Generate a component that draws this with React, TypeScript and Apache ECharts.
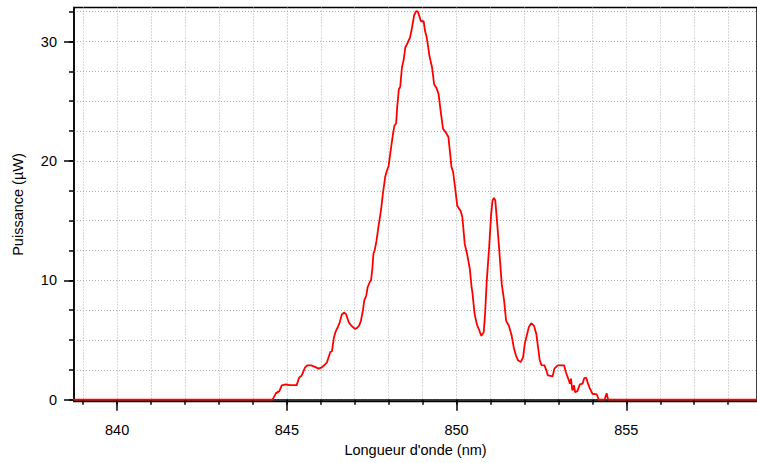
import React, { useEffect, useRef } from "react";
import * as echarts from "echarts";

const wavelength: number[] = [
  838.6, 844.58, 844.68, 844.78, 844.85, 844.97, 845.07, 845.29, 845.36, 845.43,
  845.48, 845.53, 845.6, 845.72, 845.84, 845.94, 846.04, 846.12, 846.18, 846.23,
  846.28, 846.33, 846.38, 846.43, 846.5, 846.56, 846.62, 846.69, 846.75, 846.82,
  846.9, 847.0, 847.06, 847.13, 847.18, 847.24, 847.28, 847.34, 847.38, 847.44,
  847.48, 847.52, 847.55, 847.59, 847.64, 847.71, 847.77, 847.84, 847.9, 847.95,
  848.0, 848.06, 848.13, 848.17, 848.22, 848.25, 848.3, 848.34, 848.39, 848.44,
  848.49, 848.56, 848.63, 848.69, 848.75, 848.81, 848.86, 848.9, 848.95, 849.03,
  849.07, 849.12, 849.15, 849.2, 849.28, 849.34, 849.41, 849.47, 849.53, 849.6,
  849.68, 849.76, 849.8, 849.85, 849.9, 849.95, 849.98, 850.02, 850.12, 850.17,
  850.24, 850.31, 850.39, 850.44, 850.47, 850.53, 850.6, 850.67, 850.73, 850.8,
  850.84, 850.89, 850.96, 851.02, 851.06, 851.1, 851.14, 851.19, 851.25, 851.33,
  851.4, 851.46, 851.54, 851.62, 851.69, 851.75, 851.81, 851.89, 851.96, 852.01,
  852.07, 852.13, 852.2, 852.28, 852.35, 852.4, 852.45, 852.5, 852.59, 852.64,
  852.69, 852.83, 852.88, 852.98, 853.17, 853.22, 853.29, 853.34, 853.37, 853.41,
  853.46, 853.49, 853.56, 853.63, 853.71, 853.76, 853.82, 853.88, 853.93, 854.0,
  854.13, 854.19, 854.36, 854.42, 854.46, 854.5, 859.0,
];

const power: number[] = [
  0, 0, 0.55, 0.72, 1.2, 1.28, 1.22, 1.22, 1.84, 2.0,
  2.3, 2.68, 2.87, 2.87, 2.73, 2.6, 2.73, 2.93, 3.12, 3.56,
  4.0, 4.07, 5.1, 5.66, 6.07, 6.5, 7.14, 7.3, 7.14, 6.5,
  6.2, 5.94, 6.0, 6.2, 6.58, 7.47, 8.3, 8.73, 9.42, 9.84,
  10.0, 11.0, 12.2, 12.55, 13.3, 14.7, 15.8, 17.5, 18.7, 19.2,
  19.6, 20.9, 22.3, 22.95, 23.15, 24.5, 26.0, 26.2, 27.8, 28.45,
  29.5, 29.9, 30.35, 31.2, 32.2, 32.55, 32.5, 32.15, 31.7, 31.7,
  30.9, 30.35, 29.8, 28.8, 27.8, 26.4, 26.1, 25.6, 24.2, 22.7,
  22.4, 22.0, 20.9, 19.5, 19.05, 17.9, 17.2, 16.25, 15.8, 15.3,
  13.05, 12.2, 10.96, 9.5, 8.9, 7.2, 6.3, 5.8, 5.35, 5.66,
  7.2, 10.0, 12.8, 15.6, 16.7, 16.9, 16.7, 15.0, 12.8, 9.7,
  8.3, 6.6, 6.2, 5.4, 4.3, 3.7, 3.3, 3.15, 3.56, 4.7,
  5.4, 6.1, 6.4, 6.2, 5.5, 4.4, 3.3, 2.9, 2.87, 2.5,
  2.03, 1.95, 2.6, 2.87, 2.87, 2.3, 1.76, 1.34, 1.76, 0.78,
  1.2, 0.64, 0.72, 1.28, 1.34, 1.8, 1.84, 1.28, 0.92, 0.5,
  0.44, 0, 0, 0.55, 0.05, 0, 0,
];

const xMajorTicks: number[] = [840, 845, 850, 855];
const xMinorTicks: number[] = [
  839, 840, 841, 842, 843, 844, 845, 846, 847, 848, 849, 850, 851, 852, 853,
  854, 855, 856, 857, 858,
];
const yMajorTicks: number[] = [0, 10, 20, 30];
const yMinorTicks: number[] = [0, 2.5, 5, 7.5, 10, 12.5, 15, 17.5, 20, 22.5, 25, 27.5, 30, 32.5];

const X_MIN = 838.73;
const X_MAX = 858.85;
const Y_MIN = -0.15;
const Y_MAX = 32.85;

const FONT = "'Liberation Sans', Arial, Helvetica, sans-serif";

export default function App() {
  const ref = useRef<HTMLDivElement>(null);

  useEffect(() => {
    if (!ref.current) return;
    const chart = echarts.init(ref.current, undefined, { renderer: "svg" });
    const data = wavelength.map((w, i) => [w, power[i]]);
    const axisLineStyle = { color: "#000", width: 1.5 };
    const gridLineStyle = { color: "#b0b0b0", width: 1, type: [1, 2] as number[] };
    const labelStyle = { color: "#000", fontSize: 14.5, fontFamily: FONT };

    chart.setOption({
      animation: false,
      backgroundColor: "#fff",
      textStyle: { fontFamily: FONT },
      grid: {
        left: 74,
        top: 7.5,
        right: -8,
        bottom: 61.5,
        show: true,
        borderColor: "#000",
        borderWidth: 1.5,
        backgroundColor: "transparent",
      },
      xAxis: [
        {
          type: "value",
          min: X_MIN,
          max: X_MAX,
          position: "bottom",
          name: "Longueur d'onde (nm)",
          nameLocation: "middle",
          nameGap: 41,
          nameTextStyle: labelStyle,
          axisLine: { show: true, lineStyle: axisLineStyle },
          axisTick: { show: true, length: 11, customValues: xMajorTicks, lineStyle: axisLineStyle },
          axisLabel: { show: true, margin: 21, customValues: xMajorTicks, ...labelStyle },
          splitLine: { show: false },
        },
        {
          type: "value",
          min: X_MIN,
          max: X_MAX,
          position: "bottom",
          axisLine: { show: false },
          axisTick: { show: true, length: 5, customValues: xMinorTicks, lineStyle: axisLineStyle },
          axisLabel: { show: false },
          splitLine: { show: true, lineStyle: gridLineStyle },
        },
      ],
      yAxis: [
        {
          type: "value",
          min: Y_MIN,
          max: Y_MAX,
          position: "left",
          name: "Puissance (µW)",
          nameLocation: "middle",
          nameGap: 49,
          nameTextStyle: labelStyle,
          axisLine: { show: true, lineStyle: axisLineStyle },
          axisTick: { show: true, length: 10, customValues: yMajorTicks, lineStyle: axisLineStyle },
          axisLabel: { show: true, margin: 17, customValues: yMajorTicks, ...labelStyle },
          splitLine: { show: false },
        },
        {
          type: "value",
          min: Y_MIN,
          max: Y_MAX,
          position: "left",
          axisLine: { show: false },
          axisTick: { show: true, length: 5, customValues: yMinorTicks, lineStyle: axisLineStyle },
          axisLabel: { show: false },
          splitLine: { show: true, lineStyle: gridLineStyle },
        },
      ],
      series: [
        {
          type: "line",
          xAxisIndex: 0,
          yAxisIndex: 0,
          data,
          showSymbol: false,
          symbol: "none",
          clip: true,
          lineStyle: { color: "#ff0000", width: 1.8 },
          z: 5,
        },
      ],
    });
    return () => chart.dispose();
  }, []);

  return (
    <div
      ref={ref}
      style={{ position: "fixed", left: 0, top: 0, width: 757, height: 463, background: "#fff" }}
    />
  );
}
